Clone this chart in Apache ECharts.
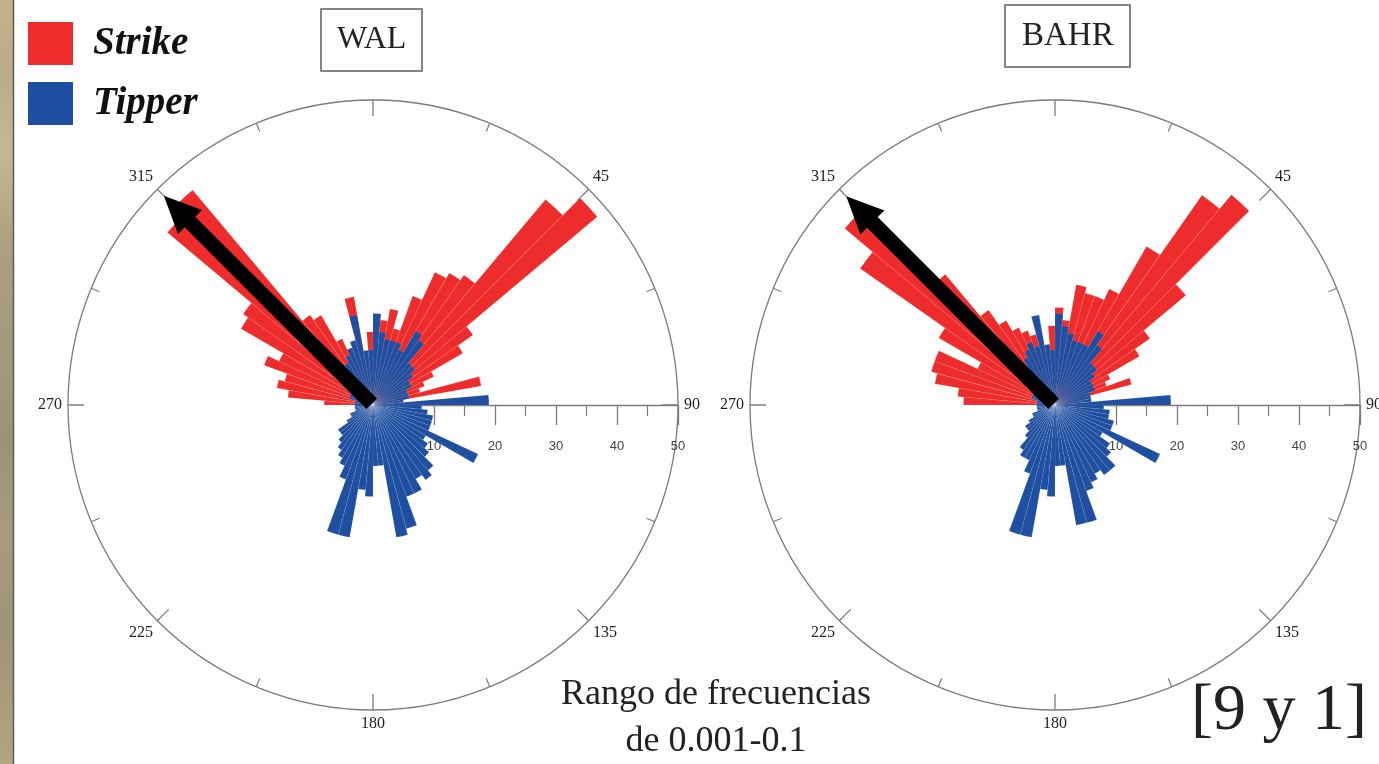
<!DOCTYPE html>
<html>
<head>
<meta charset="utf-8">
<title>Rosetas Strike / Tipper</title>
<script src="https://cdn.jsdelivr.net/npm/echarts@6.0.0/dist/echarts.min.js"></script>
<style>
  html, body { margin: 0; padding: 0; background: #fff; overflow: hidden; }
  #chart { width: 1379px; height: 764px; }
</style>
</head>
<body>
<div id="chart"></div>
<script>
// 5-degree azimuth bins (start angle of each bin, clockwise from north)
const binWidth = 5;
const binStarts = [
  0, 5, 10, 15, 20, 25, 30, 35, 40, 45, 50, 55, 60, 65, 70, 75, 80, 85,
  90, 95, 100, 105, 110, 115, 120, 125, 130, 135, 140, 145, 150, 155, 160, 165, 170, 175,
  180, 185, 190, 195, 200, 205, 210, 215, 220, 225, 230, 235, 240, 245, 250, 255, 260, 265,
  270, 275, 280, 285, 290, 295, 300, 305, 310, 315, 320, 325, 330, 335, 340, 345, 350, 355
];

// Station WAL: counts per bin
const walStrike = [
  9, 14, 16, 13, 19, 24, 25, 26, 44, 48, 20, 17, 11, 9, 8, 18, 5, 3,
  0, 0, 0, 0, 0, 0, 0, 0, 0, 0, 0, 0, 0, 0, 0, 0, 0, 0,
  0, 0, 0, 0, 0, 0, 0, 0, 0, 0, 0, 0, 0, 0, 0, 0, 0, 0,
  8, 14, 16, 15, 19, 17, 25, 26, 44, 46, 18, 17, 12, 10, 9, 18, 7, 12
];
const walTipper = [
  15, 12, 11, 11, 11, 10, 14, 13, 9, 9, 8, 7, 7, 6, 6, 6, 5, 19,
  8, 9, 10, 10, 10, 19, 10, 11, 12, 14, 15, 14, 16, 16, 21, 22, 10, 10,
  15, 14, 22, 22, 13, 11, 10, 9, 8, 7, 7, 5, 4, 4, 3, 3, 3, 3,
  3, 3, 3, 4, 4, 4, 5, 5, 6, 7, 8, 8, 9, 10, 11, 15, 9, 9
];

// Station BAHR: counts per bin
const bahrStrike = [
  16, 14, 20, 19, 19, 21, 30, 42, 45, 28, 19, 16, 10, 9, 13, 5, 4, 3,
  0, 0, 0, 0, 0, 0, 0, 0, 0, 0, 0, 0, 0, 0, 0, 0, 0, 0,
  0, 0, 0, 0, 0, 0, 0, 0, 0, 0, 0, 0, 0, 0, 0, 0, 0, 0,
  15, 16, 20, 21, 21, 14, 22, 39, 45, 28, 19, 16, 14, 13, 12, 10, 9, 13
];
const bahrTipper = [
  15, 13, 12, 11, 11, 11, 14, 12, 9, 9, 8, 7, 7, 7, 6, 6, 6, 19,
  8, 9, 9, 10, 10, 19, 9, 11, 12, 14, 14, 13, 14, 15, 20, 20, 10, 10,
  15, 14, 22, 22, 12, 10, 10, 9, 7, 6, 6, 5, 4, 4, 3, 3, 3, 3,
  3, 3, 3, 4, 4, 4, 5, 5, 6, 7, 8, 9, 10, 11, 10, 15, 10, 9
];

// Preferred direction arrows: [length, azimuth]
const walArrow = [48.5, 315];
const bahrArrow = [48.4, 315];

// Scale of the rose diagrams and azimuth labels
const radiusMax = 50;
const radiusStep = 10;
const azimuthStep = 45;

const RED = '#EE2C2C';
const BLUE = '#1F4FA0';
const AXIS = '#7b7b7b';
const SERIF = '"Liberation Serif", "Times New Roman", serif';
const SANS = '"Liberation Sans", Arial, sans-serif';

const plots = [
  { center: [373, 405], radius: 305, strike: walStrike, tipper: walTipper, arrow: walArrow },
  { center: [1055, 405], radius: 305, strike: bahrStrike, tipper: bahrTipper, arrow: bahrArrow }
];

// the azimuth axis runs from 90 to 450 so that the radial scale lies toward the east
const toAxisAngle = a => (a < 90 ? a + 360 : a);

// one wedge per bin, from the centre out to the bin count
function renderWedge(params, api) {
  const v = api.value(0);
  if (!v) return null;
  const a0 = api.value(1);
  const cs = params.coordSys;
  const pA = api.coord([v, a0]);
  const pB = api.coord([v, a0 + binWidth]);
  const r = Math.hypot(pA[0] - cs.cx, pA[1] - cs.cy);
  const s = Math.atan2(pA[1] - cs.cy, pA[0] - cs.cx);
  let e = Math.atan2(pB[1] - cs.cy, pB[0] - cs.cx);
  if (e < s) e += Math.PI * 2;
  return {
    type: 'sector',
    shape: { cx: cs.cx, cy: cs.cy, r0: 0, r, startAngle: s, endAngle: e, clockwise: true },
    style: api.style()
  };
}

function renderArrow(params, api) {
  const tip = api.coord([api.value(0), api.value(1)]);
  const tail = api.coord([0.3, api.value(1)]);
  const dx = tip[0] - tail[0], dy = tip[1] - tail[1];
  const len = Math.hypot(dx, dy);
  const ux = dx / len, uy = dy / len, nx = -uy, ny = ux;
  const headLen = 37, headHalf = 17, shaftHalf = 7.5;
  const neck = [tip[0] - ux * headLen, tip[1] - uy * headLen];
  const off = (b, s) => [b[0] + nx * s, b[1] + ny * s];
  return {
    type: 'polygon',
    shape: { points: [off(tail, shaftHalf), off(neck, shaftHalf), off(neck, headHalf), tip,
                      off(neck, -headHalf), off(neck, -shaftHalf), off(tail, -shaftHalf)] },
    style: { fill: '#000' }
  };
}

const polar = [], angleAxis = [], radiusAxis = [], series = [];

plots.forEach((p, k) => {
  polar.push({ center: p.center, radius: p.radius });
  angleAxis.push({
    polarIndex: k, type: 'value', min: 90, max: 450, interval: azimuthStep,
    startAngle: 0, clockwise: true,
    axisLine: { show: true, lineStyle: { color: AXIS, width: 1.3 } },
    axisTick: { show: true, inside: true, length: 16, lineStyle: { color: AXIS, width: 1.3 } },
    minorTick: { show: true, splitNumber: 2, length: 9, lineStyle: { color: AXIS, width: 1.2 } },
    axisLabel: { show: true, margin: 6,
                 formatter: v => (v === 360 ? '' : String(v % 360)),
                 fontFamily: SERIF, fontSize: 16, color: '#222' },
    splitLine: { show: false }, minorSplitLine: { show: false }
  });
  radiusAxis.push({
    polarIndex: k, type: 'value', min: 0, max: radiusMax, interval: radiusStep,
    axisLine: { show: true, lineStyle: { color: AXIS, width: 1.3 } },
    axisTick: { show: true, length: -20, lineStyle: { color: AXIS, width: 1.3 } },
    minorTick: { show: true, splitNumber: 2, length: -11, lineStyle: { color: AXIS, width: 1.2 } },
    axisLabel: { show: true, margin: -35, verticalAlign: 'top',
                 formatter: v => (v === 0 ? '' : String(v)),
                 fontFamily: SANS, fontSize: 13, color: '#444' },
    splitLine: { show: false }, minorSplitLine: { show: false }
  });

  const wedges = (name, values, color) => ({
    name, type: 'custom', coordinateSystem: 'polar', polarIndex: k, silent: true,
    data: values.map((v, i) => [v, toAxisAngle(binStarts[i])]),
    itemStyle: { color, borderColor: 'rgba(255,255,255,0.16)', borderWidth: 0.5 },
    renderItem: renderWedge
  });
  series.push(wedges('Strike', p.strike, RED));
  series.push(wedges('Tipper', p.tipper, BLUE));
  series.push({
    type: 'custom', coordinateSystem: 'polar', polarIndex: k, z: 5, silent: true,
    data: [p.arrow], renderItem: renderArrow
  });
});

const boxTitle = (text, left, top, size, padH) => ({
  text, left, top,
  padding: [13, padH], borderColor: '#5d5d5d', borderWidth: 1.5, backgroundColor: '#fff',
  textStyle: { fontFamily: SERIF, fontSize: size, fontWeight: 'normal', color: '#222', lineHeight: 36 }
});

const option = {
  animation: false,
  backgroundColor: '#fff',
  title: [boxTitle('WAL', 321, 9, 32, 16), boxTitle('BAHR', 1005, 5, 33, 17)],
  legend: {
    data: ['Strike', 'Tipper'], orient: 'vertical', left: 23, top: 17,
    itemWidth: 45, itemHeight: 43, itemGap: 17, icon: 'rect', selectedMode: false,
    itemStyle: { borderWidth: 0 },
    textStyle: { fontFamily: SERIF, fontStyle: 'italic', fontWeight: 'bold', fontSize: 39,
                 color: '#111', padding: [0, 0, 0, 15] }
  },
  polar, angleAxis, radiusAxis, series,
  graphic: [
    {
      type: 'rect', left: 0, top: 0, silent: true,
      shape: { x: 0, y: 0, width: 13, height: 764 },
      style: {
        fill: {
          type: 'linear', x: 0, y: 0, x2: 0, y2: 1,
          colorStops: [
            { offset: 0.00, color: '#c4b28c' }, { offset: 0.10, color: '#bcab87' },
            { offset: 0.20, color: '#c7b792' }, { offset: 0.32, color: '#ad9f80' },
            { offset: 0.45, color: '#a59a7c' }, { offset: 0.58, color: '#9d9277' },
            { offset: 0.70, color: '#a99c7d' }, { offset: 0.82, color: '#9f9377' },
            { offset: 1.00, color: '#b4a47f' }
          ]
        }
      }
    },
    { type: 'line', silent: true, shape: { x1: 13.5, y1: 0, x2: 13.5, y2: 764 },
      style: { stroke: '#5a5a5a', lineWidth: 1.5 } },
    { type: 'text', x: 716, y: 695, silent: true,
      style: { text: 'Rango de frecuencias', font: '36px ' + SERIF, fill: '#222',
               textAlign: 'center', verticalAlign: 'middle' } },
    { type: 'text', x: 716, y: 742, silent: true,
      style: { text: 'de 0.001-0.1', font: '36px ' + SERIF, fill: '#222',
               textAlign: 'center', verticalAlign: 'middle' } },
    { type: 'text', x: 1279, y: 712, silent: true,
      style: { text: '[9 y 1]', font: '66px ' + SERIF, fill: '#222',
               textAlign: 'center', verticalAlign: 'middle' } }
  ]
};

const chart = echarts.init(document.getElementById('chart'));
chart.setOption(option);
</script>
</body>
</html>
